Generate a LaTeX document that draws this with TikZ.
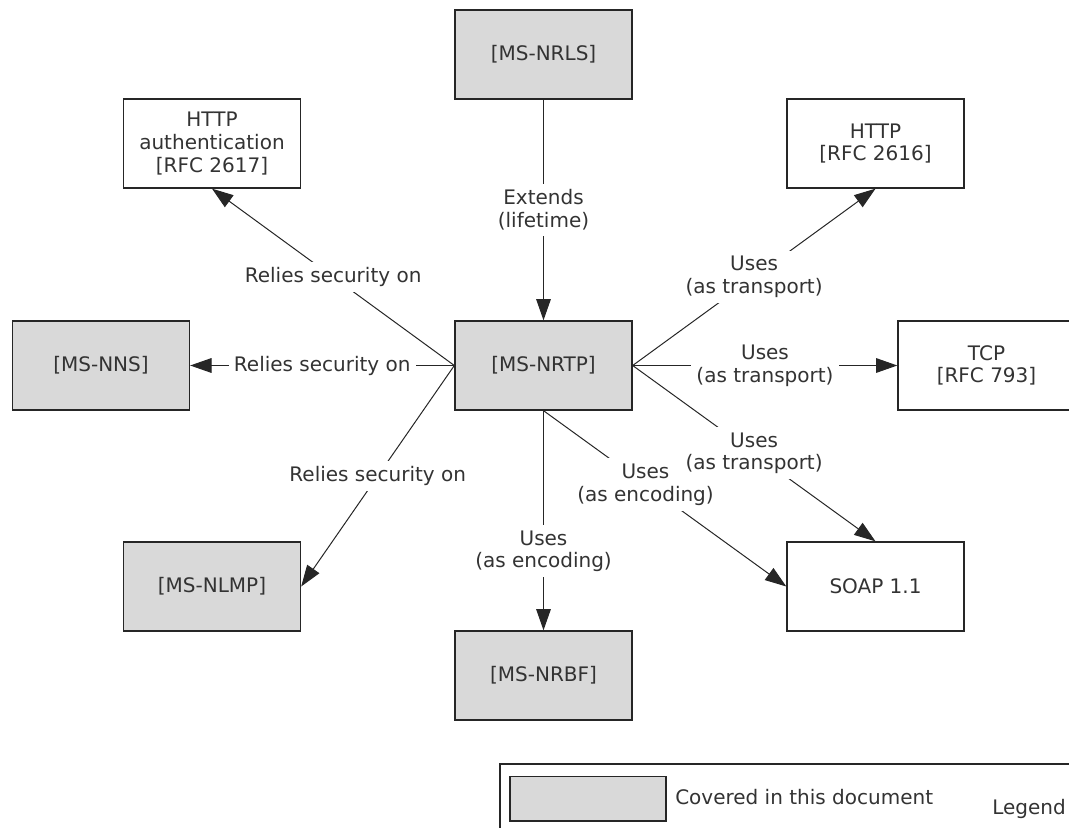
\documentclass[tikz,border=0pt]{standalone}
\usepackage{fontspec}
\setmainfont{DejaVu Sans}
\usetikzlibrary{arrows.meta}

\definecolor{boxgray}{HTML}{D9D9D9}
\definecolor{linegray}{HTML}{262626}
\definecolor{textgray}{HTML}{333333}

\begin{document}
\begin{tikzpicture}[x=0.75pt, y=-0.75pt,
  every node/.style={font=\fontsize{15}{17}\selectfont, text=textgray},
  box/.style={draw=linegray, line width=1pt, minimum width=132.75pt, minimum height=66.75pt, align=center, inner sep=0pt},
  covered/.style={box, fill=boxgray},
  lbl/.style={fill=white, align=center, inner sep=4pt},
  rel/.style={draw=linegray, line width=0.75pt, -{Triangle[length=16pt, width=11pt]}}]
  \useasboundingbox (0,0) rectangle (1069,827);
  \clip (0,0) rectangle (1069,827);

  \node[covered] (nrls) at (543.5,54.5) {[MS-NRLS]};
  \node[box] (httpauth) at (212,143.5) {HTTP\\authentication\\{[RFC 2617]}};
  \node[box] (http) at (875.5,143.5) {HTTP\\{[RFC 2616]}};
  \node[covered] (nns) at (101,365.5) {[MS-NNS]};
  \node[covered] (nrtp) at (543.5,365.5) {[MS-NRTP]};
  \node[box] (tcp) at (986.5,365.5) {TCP\\{[RFC 793]}};
  \node[covered] (nlmp) at (212,586.5) {[MS-NLMP]};
  \node[box] (soap) at (875.5,586.5) {SOAP 1.1};
  \node[covered] (nrbf) at (543.5,675.5) {[MS-NRBF]};

  \draw[rel] (nrls) -- node[lbl] {Extends\\(lifetime)} (nrtp);
  \draw[rel] (nrtp.west) -- node[lbl] {Relies security on} (httpauth.south);
  \draw[rel] (nrtp.west) -- node[lbl] {Relies security on} (nns);
  \draw[rel] (nrtp.west) -- node[lbl] {Relies security on} (nlmp.east);
  \draw[rel] (nrtp) -- node[lbl, pos=0.64] {Uses\\(as encoding)} (nrbf);
  \draw[rel] (nrtp.south) -- node[lbl, pos=0.42] {Uses\\(as encoding)} (soap.west);
  \draw[rel] (nrtp.east) -- node[lbl] {Uses\\(as transport)} (http.south);
  \draw[rel] (nrtp.east) -- node[lbl] {Uses\\(as transport)} (tcp);
  \draw[rel] (nrtp.east) -- node[lbl] {Uses\\(as transport)} (soap.north);

  % legend
  \draw[linegray, line width=1pt] (500,764) rectangle (1100,860);
  \node[covered, minimum width=117pt, minimum height=33.5pt] (key) at (588,798.5) {};
  \node[anchor=west, inner sep=0pt] (keytext) at (675,797) {Covered in this document};
  \node (legend) at (1029,809) {Legend};
\end{tikzpicture}
\end{document}
